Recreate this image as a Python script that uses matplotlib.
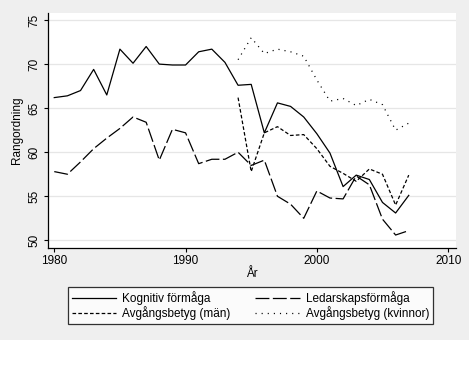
import matplotlib
matplotlib.use("Agg")
import matplotlib.pyplot as plt
from matplotlib.patches import Rectangle

plt.rcParams['font.family'] = ['Liberation Sans', 'DejaVu Sans']
plt.rcParams['lines.scale_dashes'] = False

# --- data ---
years_long = list(range(1980, 2008))
kognitiv = [66.2, 66.4, 67.0, 69.4, 66.5, 71.7, 70.1, 72.0, 70.0, 69.9,
            69.9, 71.4, 71.7, 70.2, 67.6, 67.7, 62.2, 65.6, 65.2, 64.0,
            62.1, 59.9, 56.1, 57.4, 56.9, 54.3, 53.1, 55.1]
ledarskap = [57.8, 57.5, 58.9, 60.4, 61.6, 62.7, 64.0, 63.4, 59.1, 62.6,
             62.2, 58.7, 59.2, 59.2, 60.0, 58.5, 59.1, 55.0, 54.1, 52.5,
             55.6, 54.8, 54.7, 57.3, 56.3, 52.4, 50.6, 51.1]

years_short = list(range(1994, 2008))
betyg_man = [66.2, 57.8, 62.2, 62.9, 61.9, 62.0, 60.4, 58.4, 57.6, 56.7,
             58.1, 57.5, 54.0, 57.4]
betyg_kvinnor = [70.5, 73.0, 71.2, 71.7, 71.4, 70.9, 68.2, 65.8, 66.1, 65.3,
                 66.0, 65.4, 62.5, 63.3]

x_ticks = [1980, 1990, 2000, 2010]
y_ticks = [50, 55, 60, 65, 70, 75]

fig = plt.figure(figsize=(4.69, 3.70), dpi=100)
fig.patch.set_facecolor('white')
# grey Stata-like background, white strip at the bottom
fig.add_artist(Rectangle((0, 30 / 370), 1, 1 - 30 / 370, transform=fig.transFigure,
                         facecolor='#efefef', edgecolor='none', zorder=0))

ax = fig.add_axes([0.1017, 0.3305, 0.8706, 0.6343])
ax.set_facecolor('white')

l1, = ax.plot(years_long, kognitiv, color='black', lw=0.9, label='Kognitiv förmåga')
l2, = ax.plot(years_long, ledarskap, color='black', lw=0.9, dashes=(10, 2.5),
              label='Ledarskapsförmåga')
l3, = ax.plot(years_short, betyg_man, color='black', lw=0.9, dashes=(2.6, 1.6),
              label='Avgångsbetyg (män)')
l4, = ax.plot(years_short, betyg_kvinnor, color='black', lw=0.9, dashes=(0.8, 3.6),
              label='Avgångsbetyg (kvinnor)')

ax.set_xlim(1979.5, 2010.6)
ax.set_ylim(49.16, 75.8)
ax.set_xticks(x_ticks)
ax.set_yticks(y_ticks)
ax.grid(axis='y', color='#e6e6e6', lw=0.9)
ax.set_axisbelow(True)

for s in ['top', 'right']:
    ax.spines[s].set_visible(False)
for s in ['left', 'bottom']:
    ax.spines[s].set_linewidth(0.9)

ax.tick_params(axis='both', length=3, width=0.8, labelsize=8.5, pad=2)
ax.tick_params(axis='y', labelrotation=90)
for lab in ax.get_yticklabels():
    lab.set_va('center')

ax.set_xlabel('År', fontsize=8.5, labelpad=1)
ax.set_ylabel('Rangordning', fontsize=8.5, labelpad=4)

# legend filled row by row like the original: matplotlib fills by column
handles = [l1, l3, l2, l4]
leg = fig.legend(handles=handles, labels=[h.get_label() for h in handles],
                 loc='lower left', bbox_to_anchor=(0.145, 0.1243, 0.778, 0.1008),
                 ncol=2, mode='expand', fontsize=8.5, frameon=True, fancybox=False,
                 edgecolor='black', handlelength=3.8, handletextpad=0.5,
                 borderaxespad=0, borderpad=0.3, labelspacing=0.15,
                 columnspacing=1.2)
leg.get_frame().set_linewidth(0.9)
leg.get_frame().set_facecolor('white')

fig.savefig('out.png', dpi=100)
